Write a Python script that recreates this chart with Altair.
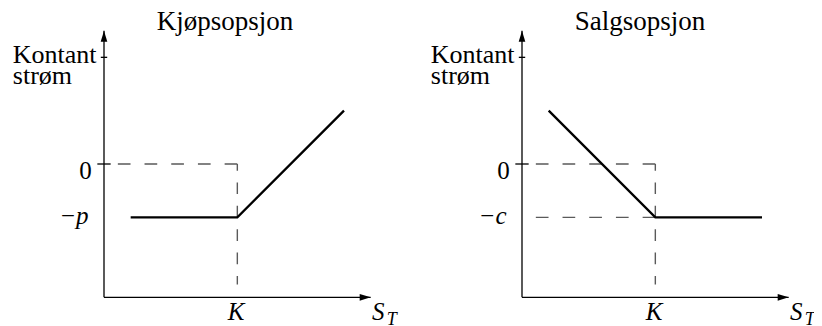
import altair as alt
import pandas as pd

# ---------------- data ----------------
titles = ["Kjøpsopsjon", "Salgsopsjon"]
level_labels = ["−p", "−c"]
strike_label = "K"
x_axis_label = ["S", "T"]
y_axis_label = ["Kontant", "strøm"]

strike = 5
zero_level = 0
premium_level = -2

payoff_x = [1, 5, 9]
call_payoff_y = [-2, -2, 2]
put_payoff_y = [2, -2, -2]

axis_x_end = 10
axis_y_bottom = -5
axis_y_top = 5
kontant_tick_y = 4
dash_bottom = -4.52

# ---------------- layout / style ----------------
PX = 400 / 15.0  # pixels per unit
XDOMS = [[-3.6, 11.4], [-3.6, -3.6 + 388 / PX]]
WIDTHS = [400, 388]
H = 318
YDOM = [5.8125 - H / PX, 5.8125]
FONT = "Liberation Serif"
ARROW = "M0,0L0.66,2.2L-0.66,2.2Z"


def panel(i):
    payoff_y = call_payoff_y if i == 0 else put_payoff_y

    def X(f="x"):
        return alt.X(f"{f}:Q", scale=alt.Scale(domain=XDOMS[i], nice=False, zero=False), axis=None)

    def Y(f="y"):
        return alt.Y(f"{f}:Q", scale=alt.Scale(domain=YDOM, nice=False, zero=False), axis=None)

    axes_df = pd.DataFrame({
        "x": [0, 0], "y": [axis_y_bottom, axis_y_bottom],
        "x2": [axis_x_end, 0], "y2": [axis_y_bottom, axis_y_top],
    })
    ticks_df = pd.DataFrame({
        "x": [-0.25, -0.12], "y": [zero_level, kontant_tick_y],
        "x2": [0.25, 0.12], "y2": [zero_level, kontant_tick_y],
    })
    hlevels = [zero_level] if i == 0 else [zero_level, premium_level]
    hdash_df = pd.DataFrame({
        "x": [strike] * len(hlevels), "y": hlevels,
        "x2": [0] * len(hlevels), "y2": hlevels,
    })
    vdash_df = pd.DataFrame({"x": [strike], "y": [zero_level], "x2": [strike], "y2": [dash_bottom]})
    payoff_df = pd.DataFrame({"x": payoff_x, "y": payoff_y})
    arrows_df = pd.DataFrame({"x": [0, axis_x_end], "y": [axis_y_top, axis_y_bottom], "angle": [0, 90]})

    seg_enc = dict(x=X("x"), y=Y("y"), x2="x2:Q", y2="y2:Q")

    axes = alt.Chart(axes_df).mark_rule(color="black", strokeWidth=1.3).encode(**seg_enc)
    ticks = alt.Chart(ticks_df).mark_rule(color="black", strokeWidth=1.3).encode(**seg_enc)
    hdash = alt.Chart(hdash_df).mark_rule(
        color="#5a5a5a", strokeWidth=1.4, strokeDash=[12.7, 14.0]
    ).encode(**seg_enc)
    vdash = alt.Chart(vdash_df).mark_rule(
        color="#5a5a5a", strokeWidth=1.4, strokeDash=[11.7, 11.7], strokeDashOffset=5
    ).encode(**seg_enc)
    payoff = alt.Chart(payoff_df).mark_line(
        color="black", strokeWidth=2.3, strokeJoin="miter"
    ).encode(x=X(), y=Y())
    arrows = alt.Chart(arrows_df).mark_point(
        shape=ARROW, filled=True, size=100, color="black", opacity=1, strokeWidth=0
    ).encode(x=X(), y=Y(), angle=alt.Angle("angle:Q", scale=None))

    title_df = pd.DataFrame({"x": [1.98], "y": [5.02], "t": [titles[i]]})
    ylab_df = pd.DataFrame({"x": [-3.42, -3.42], "y": [3.80, 2.99], "t": y_axis_label})
    zero_df = pd.DataFrame({"x": [-0.46], "y": [-0.56], "t": ["0"]})
    level_df = pd.DataFrame({"x": [-0.58], "y": [-2.25], "t": [level_labels[i]]})
    k_df = pd.DataFrame({"x": [strike - 0.05], "y": [-5.86], "t": [strike_label]})
    s_df = pd.DataFrame({"x": [10.05], "y": [-5.86], "t": [x_axis_label[0]]})
    t_df = pd.DataFrame({"x": [10.6], "y": [-6.05], "t": [x_axis_label[1]]})

    def txt(df, align, size, style="normal", clip=False):
        return alt.Chart(df).mark_text(
            align=align, baseline="alphabetic", font=FONT, fontSize=size,
            fontStyle=style, color="black", clip=clip
        ).encode(x=X(), y=Y(), text="t:N")

    layers = [
        hdash, vdash, axes, ticks, payoff, arrows,
        txt(title_df, "left", 27),
        txt(ylab_df, "left", 26),
        txt(zero_df, "right", 25),
        txt(level_df, "right", 25, "italic"),
        txt(k_df, "center", 25, "italic", clip=True),
        txt(s_df, "left", 25, "italic", clip=True),
        txt(t_df, "left", 18, "italic", clip=True),
    ]
    return alt.layer(*layers).properties(width=WIDTHS[i], height=H)


chart = alt.hconcat(panel(0), panel(1), spacing=18, bounds="flush").properties(
    padding={"left": 0, "top": 0, "right": 0, "bottom": 0}
).configure_view(stroke=None)

chart.save("out.html", embed_options={"renderer": "svg", "actions": False})
